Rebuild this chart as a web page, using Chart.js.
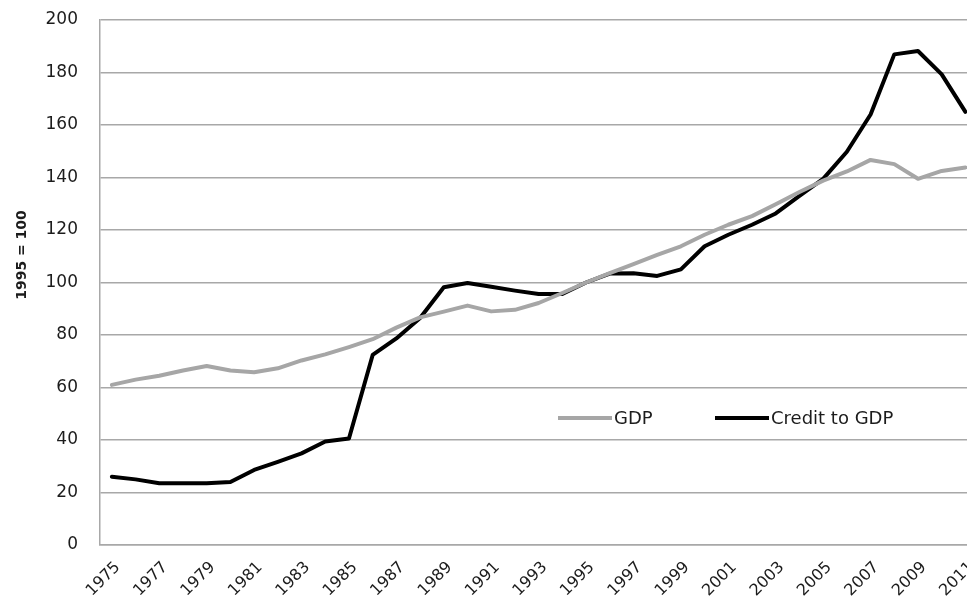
<!DOCTYPE html>
<html>
<head>
<meta charset="utf-8">
<script src="https://cdn.jsdelivr.net/npm/chart.js@4"></script>
<style>
  html, body { margin: 0; padding: 0; background: #fff; overflow: hidden; }
  #wrap { width: 979px; height: 616px; }
</style>
</head>
<body>
<div id="wrap"><canvas id="c" width="979" height="616"></canvas></div>
<script>
// Index, 1995 = 100
const years = ['1975','1976','1977','1978','1979','1980','1981','1982','1983','1984',
  '1985','1986','1987','1988','1989','1990','1991','1992','1993','1994',
  '1995','1996','1997','1998','1999','2000','2001','2002','2003','2004',
  '2005','2006','2007','2008','2009','2010','2011'];

const gdp = [61, 63, 64.5, 66.5, 68.2, 66.5, 65.8, 67.3, 70.3, 72.6,
  75.4, 78.4, 82.8, 86.7, 88.9, 91.2, 89, 89.6, 92.2, 96,
  100, 103.6, 107, 110.5, 113.8, 118.2, 122, 125.3, 129.8, 134.5,
  138.8, 142.3, 146.7, 145.1, 139.5, 142.5, 143.8];

const creditToGdp = [26, 25, 23.5, 23.5, 23.5, 24, 28.6, 31.7, 34.9, 39.4,
  40.6, 72.4, 78.7, 86.5, 98.2, 99.8, 98.4, 96.9, 95.6, 95.6,
  100, 103.4, 103.5, 102.5, 105, 113.8, 118.2, 122, 126.3, 133,
  139.5, 149.8, 164, 186.9, 188.2, 179.3, 165];

const yTicks = { min: 0, max: 200, step: 20 };
const axisTitle = '1995 = 100';

const gridColor = '#a8a8a8';
const textColor = '#1c1c1c';
const fontFamily = '"DejaVu Sans", Verdana, sans-serif';
const clear = 'rgba(0,0,0,0)';

// Legend drawn inside the plot, two items on one row
const inlineLegend = {
  id: 'inlineLegend',
  afterDraw(chart) {
    const ctx = chart.ctx;
    const items = [
      { ds: chart.data.datasets[0], x: 558 },
      { ds: chart.data.datasets[1], x: 715 }
    ];
    const y = 418;
    const lineLen = 54;
    ctx.save();
    ctx.font = '18px ' + fontFamily;
    ctx.textBaseline = 'middle';
    ctx.textAlign = 'left';
    items.forEach(it => {
      ctx.strokeStyle = it.ds.borderColor;
      ctx.lineWidth = it.ds.borderWidth;
      ctx.lineCap = 'butt';
      ctx.beginPath();
      ctx.moveTo(it.x, y);
      ctx.lineTo(it.x + lineLen, y);
      ctx.stroke();
      ctx.fillStyle = textColor;
      ctx.fillText(it.ds.label, it.x + lineLen + 2, y + 1);
    });
    ctx.restore();
  }
};

// Vertical axis caption, set a little above the middle of the value axis
const valueAxisCaption = {
  id: 'valueAxisCaption',
  afterDraw(chart) {
    const ctx = chart.ctx;
    ctx.save();
    ctx.translate(22, 255);
    ctx.rotate(-Math.PI / 2);
    ctx.font = 'bold 14px ' + fontFamily;
    ctx.fillStyle = textColor;
    ctx.textAlign = 'center';
    ctx.textBaseline = 'middle';
    ctx.fillText(axisTitle, 0, 0);
    ctx.restore();
  }
};

new Chart(document.getElementById('c'), {
  type: 'line',
  data: {
    labels: years,
    datasets: [
      {
        label: 'GDP',
        data: gdp,
        borderColor: '#a6a6a6',
        backgroundColor: '#a6a6a6',
        borderWidth: 4,
        pointRadius: 0,
        tension: 0,
        borderJoinStyle: 'round',
        borderCapStyle: 'round'
      },
      {
        label: 'Credit to GDP',
        data: creditToGdp,
        borderColor: '#000000',
        backgroundColor: '#000000',
        borderWidth: 4,
        pointRadius: 0,
        tension: 0,
        borderJoinStyle: 'round',
        borderCapStyle: 'round'
      }
    ]
  },
  options: {
    responsive: false,
    animation: false,
    layout: { padding: { top: 20, right: 0, bottom: 0, left: 0 } },
    plugins: {
      legend: { display: false },
      tooltip: { enabled: false }
    },
    scales: {
      x: {
        type: 'category',
        offset: true,
        grid: {
          display: true,
          drawOnChartArea: false,
          drawTicks: true,
          tickLength: 13,
          color: clear,
          tickColor: clear
        },
        border: { display: true, color: gridColor, width: 1.5 },
        afterFit(scale) { scale.height = 71; },
        ticks: {
          autoSkip: false,
          minRotation: 45,
          maxRotation: 45,
          padding: 0,
          labelOffset: 6,
          color: textColor,
          font: { family: fontFamily, size: 16 },
          callback: function (val, index) {
            return index % 2 === 0 ? this.getLabelForValue(val) : null;
          }
        }
      },
      y: {
        min: yTicks.min,
        max: yTicks.max,
        afterFit(scale) { scale.width = 100; },
        grid: {
          color: gridColor,
          lineWidth: 1.5,
          drawTicks: true,
          tickLength: 22,
          tickColor: clear
        },
        border: { display: true, color: gridColor, width: 1.5 },
        ticks: {
          stepSize: yTicks.step,
          padding: 0,
          color: textColor,
          font: { family: fontFamily, size: 17 }
        }
      }
    }
  },
  plugins: [inlineLegend, valueAxisCaption]
});
</script>
</body>
</html>
